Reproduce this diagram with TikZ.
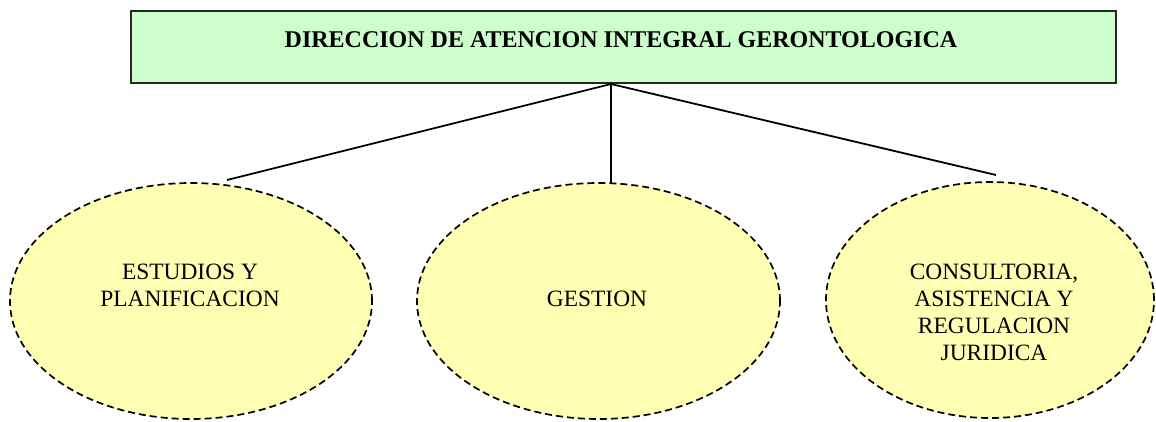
\documentclass[tikz,border=0pt]{standalone}
\usepackage{fontspec}
\setmainfont{Liberation Serif}
\usetikzlibrary{shapes.geometric}
\definecolor{boxgreen}{HTML}{CCFFCC}
\definecolor{ellyellow}{HTML}{FFFFB3}
\begin{document}
\begin{tikzpicture}[x=1pt,y=-1pt,
  headbox/.style={draw=black!85,line width=2pt,fill=boxgreen,rectangle,minimum width=985pt,minimum height=72pt,inner sep=0pt},
  unit/.style={ellipse,draw=black,line width=1.7pt,dash pattern=on 7pt off 4pt,fill=ellyellow,inner sep=0pt},
  lbl/.style={font=\fontsize{23.4}{27}\selectfont,align=center,inner sep=0pt},
  conn/.style={draw=black,line width=1.8pt}]
\useasboundingbox (0,0) rectangle (1156,421);
\node[headbox] (head) at (623.5,47) {};
\node[lbl,font=\fontsize{24}{27}\selectfont\bfseries] (title) at (621,39.5) {DIRECCION DE ATENCION INTEGRAL GERONTOLOGICA};
\node[unit,minimum width=362pt,minimum height=236pt] (e1) at (191,301) {};
\node[unit,minimum width=363pt,minimum height=236pt] (e2) at (598.5,301) {};
\node[unit,minimum width=328pt,minimum height=236pt] (e3) at (990,300) {};
\node[lbl] (t1) at (190,285) {ESTUDIOS Y\\PLANIFICACION};
\node[lbl] (t2) at (597,298.5) {GESTION};
\node[lbl] (t3) at (994,312.5) {CONSULTORIA,\\ASISTENCIA Y\\REGULACION\\JURIDICA};
\coordinate (j) at (611,84);
\coordinate (c1) at (227,180);
\coordinate (c2) at (611,183);
\coordinate (c3) at (996,175);
\draw[conn] (j) -- (c1);
\draw[conn] (j) -- (c2);
\draw[conn] (j) -- (c3);
\end{tikzpicture}
\end{document}
